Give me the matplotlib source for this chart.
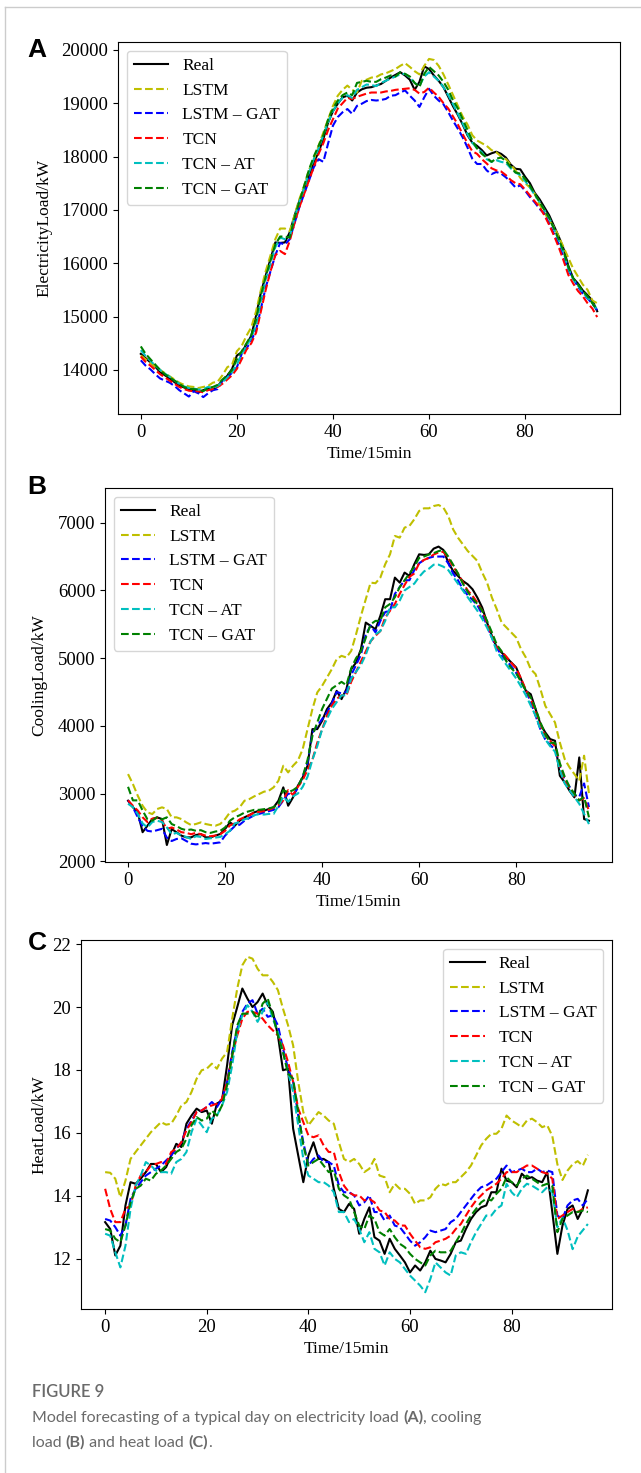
import numpy as np
import matplotlib
matplotlib.use("Agg")
import matplotlib.pyplot as plt
from matplotlib.lines import Line2D

plt.rcParams["font.family"] = ["Liberation Serif", "DejaVu Serif"]

t = np.arange(96)
labels = ["Real", "LSTM", "LSTM – GAT", "TCN", "TCN – AT", "TCN – GAT"]
colors = ["k", "y", "b", "r", "c", "g"]

# ---- (A) electricity load ----
elec_real = [
    14300, 14220, 14140, 14060, 13960, 13900, 13840, 13770, 13710, 13670,
    13640, 13620, 13580, 13620, 13650, 13620, 13700, 13800, 13890, 14020,
    14270, 14330, 14480, 14640, 15020, 15450, 15770, 16080, 16390, 16380,
    16390, 16580, 16890, 17170, 17390, 17640, 17890, 18080, 18330, 18640,
    18850, 18990, 19110, 19140, 19050, 19200, 19260, 19290, 19300, 19330,
    19360, 19420, 19480, 19530, 19580, 19520, 19440, 19250, 19400, 19690,
    19640, 19520, 19420, 19300, 19120, 18940, 18780, 18600, 18400, 18260,
    18200, 18120, 18020, 18060, 18090, 18050, 17980, 17850, 17770, 17760,
    17620, 17500, 17320, 17200, 17050, 16900, 16700, 16500, 16270, 15950,
    15720, 15620, 15490, 15400, 15300, 15100]
elec_lstm = [
    14270, 14200, 14130, 14060, 14000, 13940, 13880, 13820, 13760, 13720,
    13690, 13680, 13660, 13680, 13700, 13760, 13780, 13900, 14050, 14100,
    14350, 14450, 14640, 14800, 15100, 15500, 15850, 16150, 16450, 16650,
    16650, 16600, 16900, 17200, 17450, 17750, 17950, 18200, 18450, 18700,
    18950, 19140, 19250, 19330, 19250, 19200, 19420, 19440, 19480, 19490,
    19540, 19560, 19600, 19640, 19700, 19750, 19680, 19600, 19540, 19700,
    19830, 19810, 19700, 19540, 19350, 19150, 18950, 18750, 18600, 18400,
    18300, 18250, 18200, 18120, 18080, 18000, 17950, 17850, 17740, 17600,
    17500, 17420, 17300, 17100, 16950, 16800, 16680, 16500, 16300, 16100,
    15900, 15750, 15600, 15500, 15300, 15250]
elec_lstm_gat = [
    14180, 14080, 14010, 13920, 13840, 13800, 13760, 13700, 13620, 13560,
    13500, 13600, 13560, 13490, 13560, 13620, 13640, 13800, 13850, 13950,
    14050, 14300, 14400, 14550, 14750, 15150, 15550, 15850, 16150, 16380,
    16350, 16450, 16750, 17050, 17300, 17550, 17800, 17950, 17900, 18250,
    18580, 18740, 18830, 18890, 18800, 18950, 18990, 19040, 19060, 19050,
    19060, 19080, 19140, 19150, 19200, 19240, 19140, 19050, 18930, 19110,
    19270, 19140, 19050, 18980, 18830, 18670, 18520, 18360, 18170, 17960,
    17860, 17860, 17740, 17670, 17710, 17680, 17610, 17520, 17420, 17460,
    17360, 17240, 17140, 17020, 16930, 16740, 16550, 16360, 16110, 15870,
    15710, 15560, 15430, 15340, 15240, 15120]
elec_tcn = [
    14250, 14150, 14080, 14000, 13920, 13860, 13800, 13740, 13680, 13640,
    13610, 13600, 13600, 13580, 13620, 13640, 13680, 13740, 13820, 13900,
    14020, 14200, 14380, 14500, 14700, 15100, 15500, 15850, 16150, 16230,
    16170, 16420, 16750, 17050, 17300, 17550, 17800, 18050, 18250, 18500,
    18700, 18900, 19000, 19100, 19080, 19120, 19150, 19180, 19200, 19200,
    19200, 19220, 19230, 19250, 19260, 19270, 19280, 19250, 19180, 19210,
    19290, 19200, 19120, 19000, 18900, 18750, 18600, 18420, 18250, 18100,
    18050, 17950, 17870, 17780, 17740, 17720, 17650, 17560, 17500, 17480,
    17380, 17270, 17160, 17050, 16900, 16720, 16520, 16300, 16050, 15780,
    15620, 15480, 15380, 15250, 15150, 14990]
elec_tcn_at = [
    14370, 14260, 14170, 14080, 14000, 13930, 13870, 13800, 13740, 13690,
    13660, 13650, 13630, 13640, 13680, 13660, 13700, 13770, 13860, 13960,
    14100, 14300, 14450, 14600, 14850, 15300, 15700, 16000, 16300, 16480,
    16450, 16500, 16850, 17150, 17400, 17700, 17950, 18150, 18400, 18650,
    18850, 19000, 19100, 19150, 19100, 19250, 19300, 19350, 19340, 19320,
    19380, 19420, 19460, 19500, 19540, 19550, 19480, 19380, 19320, 19500,
    19580, 19500, 19420, 19300, 19150, 18980, 18800, 18620, 18420, 18260,
    18150, 18080, 17950, 17900, 17930, 17900, 17880, 17780, 17700, 17650,
    17540, 17420, 17280, 17150, 17000, 16850, 16650, 16430, 16200, 15900,
    15700, 15580, 15450, 15350, 15250, 15130]
elec_tcn_gat = [
    14440, 14300, 14200, 14100, 14000, 13920, 13860, 13800, 13740, 13680,
    13650, 13640, 13630, 13600, 13660, 13680, 13720, 13820, 13900, 14000,
    14200, 14350, 14500, 14650, 14950, 15400, 15750, 16050, 16350, 16500,
    16500, 16480, 16850, 17150, 17450, 17750, 18000, 18200, 18400, 18700,
    18900, 19050, 19150, 19200, 19150, 19380, 19400, 19420, 19400, 19400,
    19450, 19480, 19520, 19500, 19580, 19550, 19500, 19380, 19300, 19550,
    19680, 19600, 19520, 19400, 19250, 19050, 18900, 18700, 18500, 18300,
    18150, 18050, 17980, 17900, 17960, 17980, 17920, 17800, 17700, 17680,
    17580, 17450, 17300, 17150, 17000, 16850, 16650, 16450, 16230, 15930,
    15720, 15600, 15480, 15380, 15250, 15120]

# ---- (B) cooling load ----
cool_real = [
    2895, 2800, 2720, 2430, 2526, 2624, 2649, 2624, 2241, 2477,
    2428, 2379, 2354, 2354, 2388, 2403, 2354, 2354, 2379, 2403,
    2477, 2575, 2526, 2600, 2649, 2683, 2723, 2747, 2747, 2772,
    2797, 2895, 3092, 2821, 2944, 3116, 3239, 3411, 3952, 3952,
    4075, 4247, 4345, 4517, 4395, 4542, 4837, 4935, 5132, 5525,
    5476, 5427, 5624, 5870, 5870, 6189, 6115, 6263, 6214, 6386,
    6533, 6524, 6533, 6617, 6647, 6597, 6411, 6288, 6214, 6140,
    6091, 6017, 5894, 5747, 5525, 5329, 5157, 5083, 5009, 4935,
    4862, 4690, 4517, 4468, 4247, 4026, 3903, 3805, 3780, 3264,
    3165, 3042, 2944, 3534, 2624, 2600]
cool_lstm = [
    3288, 3141, 2969, 2821, 2723, 2698, 2772, 2797, 2772, 2649,
    2649, 2624, 2575, 2536, 2551, 2575, 2551, 2536, 2526, 2551,
    2624, 2723, 2747, 2797, 2895, 2919, 2959, 2993, 3028, 3042,
    3092, 3190, 3411, 3313, 3411, 3485, 3657, 3952, 4247, 4493,
    4591, 4714, 4837, 4985, 5034, 5009, 5107, 5353, 5624, 5870,
    6115, 6106, 6189, 6386, 6533, 6804, 6779, 6927, 6952, 7050,
    7173, 7212, 7212, 7246, 7261, 7222, 7099, 6902, 6779, 6681,
    6583, 6509, 6435, 6263, 6115, 5894, 5722, 5525, 5452, 5378,
    5304, 5132, 5009, 4837, 4763, 4542, 4296, 4173, 4050, 3755,
    3510, 3387, 3288, 3190, 3559, 3000]
cool_lstm_gat = [
    2900, 2800, 2650, 2520, 2450, 2440, 2460, 2480, 2350, 2300,
    2330, 2340, 2300, 2260, 2250, 2260, 2270, 2260, 2270, 2280,
    2380, 2450, 2520, 2540, 2600, 2640, 2680, 2700, 2720, 2740,
    2760, 2800, 2900, 3000, 2980, 3080, 3250, 3450, 3900, 4000,
    4100, 4200, 4330, 4500, 4480, 4500, 4750, 4900, 5050, 5350,
    5480, 5380, 5550, 5680, 5700, 5950, 6050, 6150, 6150, 6300,
    6400, 6450, 6480, 6500, 6500, 6500, 6400, 6250, 6150, 6020,
    5930, 5860, 5780, 5650, 5480, 5300, 5150, 5040, 4960, 4880,
    4780, 4660, 4520, 4350, 4150, 3950, 3800, 3720, 3650, 3400,
    3200, 3100, 2980, 2950, 3150, 2800]
cool_tcn = [
    2900, 2820, 2750, 2650, 2580, 2630, 2640, 2600, 2480, 2500,
    2470, 2430, 2420, 2400, 2420, 2400, 2380, 2370, 2380, 2400,
    2450, 2530, 2560, 2620, 2650, 2680, 2720, 2730, 2740, 2760,
    2790, 2830, 2900, 3050, 2980, 3100, 3200, 3350, 3500, 3750,
    3950, 4150, 4300, 4400, 4450, 4450, 4650, 4800, 4950, 5100,
    5250, 5330, 5400, 5600, 5700, 5800, 5950, 6080, 6200, 6250,
    6400, 6450, 6480, 6530, 6560, 6570, 6480, 6350, 6250, 6120,
    6000, 5920, 5820, 5700, 5520, 5330, 5170, 5100, 5020, 4930,
    4850, 4700, 4530, 4400, 4200, 4000, 3850, 3780, 3700, 3400,
    3180, 3080, 2980, 2900, 2930, 2750]
cool_tcn_at = [
    2850, 2800, 2700, 2560, 2500, 2580, 2600, 2580, 2500, 2400,
    2420, 2380, 2360, 2330, 2370, 2360, 2330, 2340, 2350, 2360,
    2400, 2450, 2560, 2580, 2620, 2640, 2680, 2700, 2690, 2700,
    2700, 2820, 2950, 2880, 2960, 3000, 3100, 3250, 3500, 3700,
    3950, 4100, 4250, 4350, 4450, 4450, 4700, 4800, 4900, 5050,
    5250, 5350, 5400, 5550, 5750, 5750, 5850, 6000, 6050, 6100,
    6200, 6280, 6320, 6380, 6380, 6350, 6300, 6200, 6100, 6000,
    5900, 5800, 5700, 5580, 5450, 5300, 5100, 5000, 4900, 4800,
    4700, 4580, 4450, 4300, 4150, 3950, 3800, 3700, 3620, 3350,
    3150, 3050, 2950, 2850, 2700, 2550]
cool_tcn_gat = [
    3100, 2900, 2900, 2750, 2620, 2600, 2650, 2620, 2650, 2550,
    2520, 2480, 2460, 2470, 2450, 2460, 2430, 2420, 2440, 2450,
    2500, 2600, 2650, 2680, 2720, 2740, 2760, 2760, 2770, 2780,
    2800, 2850, 3050, 3020, 3050, 3100, 3250, 3500, 3850, 4050,
    4250, 4400, 4550, 4600, 4650, 4600, 4850, 5000, 5100, 5300,
    5500, 5550, 5550, 5750, 5800, 5900, 6050, 6150, 6250, 6350,
    6480, 6500, 6530, 6550, 6580, 6600, 6500, 6380, 6250, 6100,
    5980, 5880, 5800, 5700, 5550, 5380, 5200, 5100, 4950, 4850,
    4780, 4650, 4520, 4420, 4250, 4050, 3880, 3750, 3750, 3450,
    3250, 3100, 3000, 2900, 2950, 2650]

# ---- (C) heat load ----
heat_real = [
    13.16, 12.94, 12.10, 12.41, 13.69, 14.43, 14.38, 14.54, 14.75, 15.01,
    15.01, 14.75, 14.91, 15.28, 15.65, 15.55, 16.29, 16.55, 16.77, 16.66,
    16.71, 16.29, 16.93, 17.03, 18.15, 19.42, 20.00, 20.59, 20.27, 20.00,
    20.16, 20.43, 20.06, 19.85, 19.10, 17.99, 18.04, 16.13, 15.28, 14.43,
    15.28, 15.70, 15.17, 15.17, 15.07, 14.22, 13.58, 13.48, 13.74, 13.58,
    12.79, 13.26, 13.63, 12.68, 12.57, 12.15, 12.63, 12.31, 12.10, 11.88,
    11.56, 11.78, 11.62, 11.88, 12.25, 11.99, 11.94, 11.88, 12.15, 12.52,
    12.57, 12.94, 13.26, 13.48, 13.63, 13.69, 14.11, 14.11, 14.86, 14.48,
    14.43, 14.27, 14.70, 14.54, 14.59, 14.48, 14.43, 14.75, 13.48, 12.15,
    13.05, 13.58, 13.69, 13.26, 13.58, 14.17]
heat_lstm = [
    14.75, 14.73, 14.54, 13.95, 14.48, 15.17, 15.39, 15.60, 15.81, 16.02,
    16.18, 16.34, 16.26, 16.29, 16.55, 16.87, 16.98, 17.30, 17.72, 17.99,
    18.04, 18.20, 18.04, 18.36, 18.57, 19.63, 20.59, 21.33, 21.60, 21.54,
    21.22, 21.01, 21.01, 20.80, 20.54, 19.95, 19.42, 18.78, 17.62, 16.66,
    16.24, 16.45, 16.66, 16.55, 16.39, 16.29, 15.70, 15.17, 15.07, 15.17,
    15.01, 14.75, 14.86, 15.17, 14.64, 14.59, 14.11, 14.38, 14.22, 14.22,
    14.06, 13.74, 13.85, 13.85, 13.95, 14.22, 14.38, 14.33, 14.43, 14.43,
    14.59, 14.75, 14.96, 15.28, 15.60, 15.81, 15.97, 15.97, 16.13, 16.55,
    16.39, 16.29, 16.18, 16.39, 16.45, 16.34, 16.18, 16.24, 15.90, 15.00,
    14.50, 14.80, 15.00, 15.10, 14.95, 15.30]
heat_lstm_gat = [
    13.26, 13.21, 13.00, 12.73, 13.05, 13.90, 14.22, 14.43, 14.64, 14.75,
    14.86, 14.96, 15.12, 15.28, 15.49, 15.70, 16.13, 16.39, 16.66, 16.71,
    16.82, 16.98, 16.82, 17.08, 17.62, 18.57, 19.31, 19.85, 20.11, 20.22,
    19.79, 19.95, 19.69, 19.74, 19.42, 18.68, 18.04, 17.62, 16.55, 15.70,
    14.96, 15.17, 15.28, 15.07, 15.07, 14.96, 14.32, 14.11, 14.11, 14.01,
    13.69, 13.79, 14.01, 13.48, 13.48, 13.21, 13.37, 13.05, 13.00, 12.79,
    12.57, 12.41, 12.52, 12.68, 12.89, 12.84, 12.89, 12.94, 13.16, 13.26,
    13.48, 13.69, 13.90, 14.11, 14.27, 14.32, 14.43, 14.54, 14.75, 14.96,
    14.75, 14.80, 14.86, 14.75, 14.75, 14.86, 14.75, 14.80, 14.75, 13.37,
    13.26, 13.69, 13.85, 13.90, 13.69, 13.90]
heat_tcn = [
    14.22, 13.58, 13.16, 13.16, 13.58, 13.69, 14.32, 14.64, 14.75, 14.96,
    15.01, 15.07, 15.01, 15.39, 15.49, 15.70, 16.08, 16.34, 16.66, 16.71,
    16.82, 16.87, 16.93, 17.08, 17.62, 18.46, 19.10, 19.63, 19.85, 19.85,
    19.79, 19.63, 19.42, 19.26, 19.10, 18.78, 18.25, 17.62, 16.77, 16.34,
    15.92, 15.86, 15.92, 15.60, 15.39, 15.39, 14.75, 14.32, 14.11, 14.01,
    14.01, 13.85, 13.90, 13.79, 13.53, 13.48, 13.26, 13.21, 13.05, 13.05,
    12.79, 12.57, 12.36, 12.31, 12.36, 12.52, 12.57, 12.63, 12.73, 12.94,
    13.10, 13.37, 13.63, 13.85, 14.01, 14.17, 14.27, 14.38, 14.54, 14.75,
    14.75, 14.75, 14.86, 14.96, 14.96, 14.86, 14.75, 14.70, 14.54, 13.26,
    13.37, 13.48, 13.58, 13.48, 13.58, 13.63]
heat_tcn_at = [
    12.79, 12.73, 12.20, 11.72, 12.41, 13.58, 14.32, 14.64, 15.07, 14.96,
    14.80, 14.75, 14.75, 14.70, 15.07, 15.17, 15.39, 16.02, 16.45, 16.24,
    16.02, 16.45, 16.55, 16.87, 17.30, 18.15, 19.21, 19.74, 20.06, 19.85,
    19.53, 19.85, 20.16, 19.63, 19.21, 18.57, 17.93, 17.30, 16.24, 15.17,
    14.64, 14.54, 14.43, 14.43, 14.32, 14.11, 13.48, 13.48, 13.16, 13.26,
    12.94, 12.52, 12.84, 12.31, 12.20, 11.78, 12.20, 11.99, 11.88, 11.67,
    11.46, 11.30, 11.14, 10.93, 11.35, 11.88, 11.72, 11.56, 11.46, 12.10,
    12.20, 12.15, 12.52, 12.84, 13.10, 13.37, 13.37, 13.58, 13.69, 14.38,
    14.11, 13.95, 14.22, 14.38, 14.32, 14.22, 14.11, 14.27, 14.11, 13.00,
    13.30, 12.90, 12.30, 12.70, 12.90, 13.10]
heat_tcn_gat = [
    12.94, 12.89, 12.63, 12.52, 13.05, 13.79, 14.22, 14.32, 14.54, 14.48,
    14.70, 14.80, 14.96, 15.17, 15.39, 15.49, 15.81, 16.24, 16.50, 16.39,
    16.45, 16.71, 16.55, 16.87, 17.51, 18.46, 19.42, 19.79, 19.79, 19.85,
    19.63, 20.11, 20.27, 19.74, 19.10, 18.57, 17.88, 17.72, 16.66, 15.60,
    14.96, 15.07, 15.17, 14.96, 14.75, 14.80, 14.22, 14.01, 13.90, 13.48,
    13.05, 12.94, 13.37, 13.26, 12.84, 12.73, 12.94, 12.68, 12.47, 12.36,
    12.15, 11.99, 11.88, 11.78, 12.10, 12.25, 12.20, 12.20, 12.25, 12.52,
    12.79, 13.10, 13.37, 13.58, 13.79, 13.90, 13.85, 14.06, 14.22, 14.59,
    14.43, 14.32, 14.54, 14.64, 14.54, 14.43, 14.32, 14.38, 14.32, 12.84,
    13.26, 13.37, 13.48, 13.48, 13.53, 13.48]

W, H = 641, 1473
fig = plt.figure(figsize=(W / 100, H / 100), dpi=100)


def px_axes(left, top, right, bottom):
    return fig.add_axes([left / W, 1 - bottom / H, (right - left) / W, (bottom - top) / H])


panels = [
    ("A", (118, 42, 620, 414), "ElectricityLoad/kW",
     [elec_real, elec_lstm, elec_lstm_gat, elec_tcn, elec_tcn_at, elec_tcn_gat],
     "upper left", (37, 50), -0.131),
    ("B", (105, 488, 612, 862), "CoolingLoad/kW",
     [cool_real, cool_lstm, cool_lstm_gat, cool_tcn, cool_tcn_at, cool_tcn_gat],
     "upper left", (37, 487), -0.114),
    ("C", (81, 940, 612, 1309), "HeatLoad/kW",
     [heat_real, heat_lstm, heat_lstm_gat, heat_tcn, heat_tcn_at, heat_tcn_gat],
     "upper right", (37, 943), -0.064),
]

for letter, box, ylabel, series, loc, letter_xy, ylab_x in panels:
    ax = px_axes(*box)
    for k, (vals, lab, col) in enumerate(zip(series, labels, colors)):
        assert len(vals) == 96, (letter, lab, len(vals))
        ls = "-" if k == 0 else "--"
        ax.plot(t, vals, ls, color=col, lw=1.5, label=lab)
    ax.set_xticks([0, 20, 40, 60, 80])
    ax.tick_params(labelsize=13.5)
    ax.set_xlabel("Time/15min", fontsize=12.5)
    ax.set_ylabel(ylabel, fontsize=12.5)
    ax.yaxis.set_label_coords(ylab_x, 0.5)
    ax.legend(loc=loc, fontsize=12.5)
    fig.text(letter_xy[0] / W, 1 - letter_xy[1] / H, letter, family="Liberation Sans",
             fontsize=19, fontweight="bold", ha="center", va="center")

# figure frame (left and top rule of the page)
fig.add_artist(Line2D([5 / W, 5 / W], [0, 1 - 7 / H], color="#cccccc", lw=1))
fig.add_artist(Line2D([5 / W, 1], [1 - 7 / H, 1 - 7 / H], color="#cccccc", lw=1))

# caption with bold panel references
renderer = fig.canvas.get_renderer()
cap_font = ["Lato", "DejaVu Sans"]
cap_kw = dict(family=cap_font, fontsize=11.5, color="#6a6a6a", va="baseline")


def rich_line(x_px, y_px, parts):
    x = x_px
    for text, weight in parts:
        txt = fig.text(x / W, 1 - y_px / H, text, fontweight=weight, **cap_kw)
        bb = txt.get_window_extent(renderer)
        x += bb.width


fig.text(32 / W, 1 - 1397 / H, "FIGURE 9", family=cap_font,
         fontsize=12, color="#6a6a6a", fontweight="semibold", va="baseline")
rich_line(32, 1422, [("Model forecasting of a typical day on electricity load ", "normal"),
                     ("(A)", "bold"), (", cooling", "normal")])
rich_line(32, 1447, [("load ", "normal"), ("(B)", "bold"), (" and heat load ", "normal"),
                     ("(C)", "bold"), (".", "normal")])

fig.savefig("out.png", dpi=100)
